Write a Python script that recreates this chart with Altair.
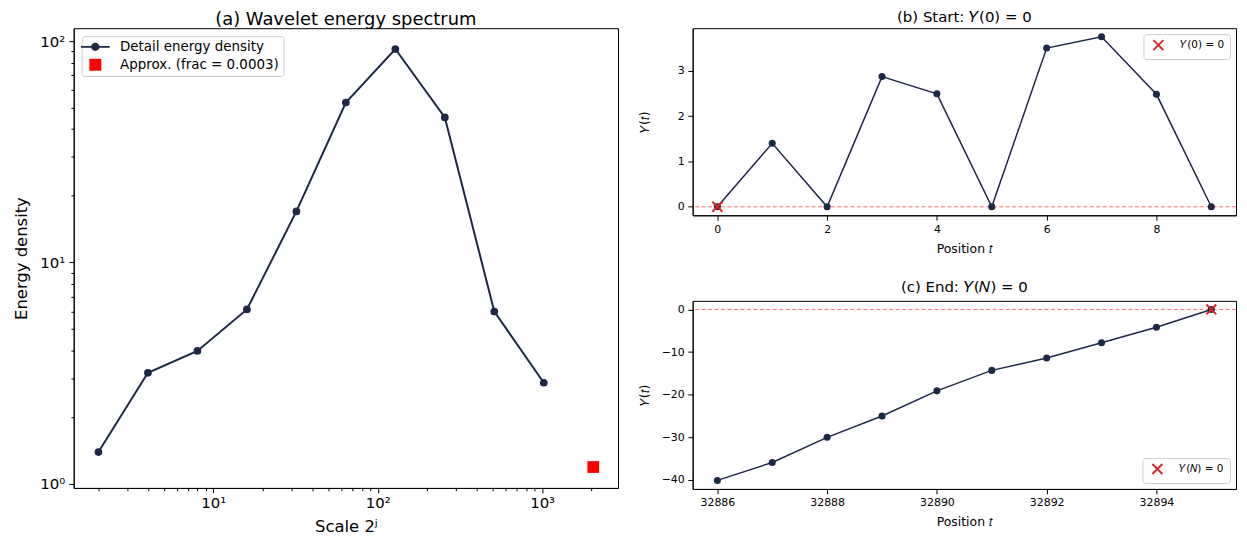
import altair as alt
import pandas as pd

# ---------------- data ----------------
# (a) wavelet energy spectrum
scales = [2, 4, 8, 16, 32, 64, 128, 256, 512, 1024]
energy = [1.39, 3.17, 3.98, 6.13, 17.0, 52.8, 92.1, 45.2, 6.0, 2.86]
approx_scale = [2048]
approx_energy = [1.19]
series_a = ["Detail energy density", "Approx. (frac = 0.0003)"]

# (b) start of profile
t_start = [0, 1, 2, 3, 4, 5, 6, 7, 8, 9]
y_start = [0.0, 1.40, 0.0, 2.87, 2.49, 0.0, 3.50, 3.75, 2.48, 0.0]
series_b = ["\U0001D44C(0) = 0"]

# (c) end of profile
t_end = [32886, 32887, 32888, 32889, 32890, 32891, 32892, 32893, 32894, 32895]
y_end = [-40.1, -35.9, -30.0, -25.0, -19.1, -14.3, -11.4, -7.8, -4.2, 0.0]
series_c = ["\U0001D44C(\U0001D441) = 0"]

zero_line = [0]

# tick values
x_major_a = [10, 100, 1000]
x_minor_a = [2, 3, 4, 5, 6, 7, 8, 9, 20, 30, 40, 50, 60, 70, 80, 90,
             200, 300, 400, 500, 600, 700, 800, 900, 2000]
y_major_a = [1, 10, 100]
y_minor_a = [2, 3, 4, 5, 6, 7, 8, 9, 20, 30, 40, 50, 60, 70, 80, 90]
x_ticks_b = [0, 2, 4, 6, 8]
y_ticks_b = [0, 1, 2, 3]
x_ticks_c = [32886, 32888, 32890, 32892, 32894]
y_ticks_c = [-40, -30, -20, -10, 0]

# ---------------- style ----------------
NAVY = "#1d2845"
RED_SQ = "#ff0000"
RED_X = "#d62728"
FONT = "DejaVu Sans"

PATH_LINE = ("M-2.9,-0.18H2.9V0.18H-2.9Z "
             "M-0.84,0A0.84,0.84 0 1,1 0.84,0A0.84,0.84 0 1,1 -0.84,0Z")
PATH_SQ = "M-1.2,-1.2H1.2V1.2H-1.2Z"
PATH_X = "M-1,-1L1,1M-1,1L1,-1"

def sup_expr(mapping):
    parts = " : ".join(f"datum.value == {k} ? '{v}'" for k, v in mapping.items())
    return parts + " : ''"

def tick_cond(major, big, small):
    arr = ",".join(str(v) for v in major)
    return {"condition": {"test": f"indexof([{arr}], datum.value) >= 0", "value": big},
            "value": small}

# ---------------- panel (a) ----------------
df_a = pd.DataFrame({"scale": scales, "energy": energy})
df_ap = pd.DataFrame({"scale": approx_scale, "energy": approx_energy})
df_la = pd.DataFrame({"series_a": series_a, "scale": [2, 2], "energy": [1, 1]})

xa = alt.X("scale:Q",
           scale=alt.Scale(type="log", domain=[1.414, 2896], nice=False),
           axis=alt.Axis(values=sorted(x_major_a + x_minor_a),
                         labelExpr=sup_expr({10: "10\u00b9", 100: "10\u00b2", 1000: "10\u00b3"}),
                         tickSize=tick_cond(x_major_a, 4.9, 2.8),
                         labelOverlap=False, labelFlush=False,
                         labelFontSize=15, titleFontSize=16.5,
                         labelPadding=3, titlePadding=8,
                         title="Scale 2\u02b2"))
ya = alt.Y("energy:Q",
           scale=alt.Scale(type="log", domain=[0.957, 114.4], nice=False),
           axis=alt.Axis(values=sorted(y_major_a + y_minor_a),
                         labelExpr=sup_expr({1: "10\u2070", 10: "10\u00b9", 100: "10\u00b2"}),
                         tickSize=tick_cond(y_major_a, 4.9, 2.8),
                         labelOverlap=False, labelFlush=False,
                         labelFontSize=15, titleFontSize=16.5,
                         labelPadding=4, titlePadding=10,
                         title="Energy density"))

legend_a = alt.Legend(title=None, orient="top-left", offset=8, padding=4,
                      fillColor="rgba(255,255,255,0.8)", strokeColor="#cccccc",
                      cornerRadius=3, symbolSize=100, labelFontSize=13.5,
                      labelFont=FONT, labelOffset=18, rowPadding=3, symbolOffset=3)

line_a = alt.Chart(df_a).mark_line(color=NAVY, strokeWidth=2).encode(x=xa, y=ya)
pts_a = alt.Chart(df_a).mark_circle(color=NAVY, size=60, opacity=1).encode(x=xa, y=ya)
sq_a = alt.Chart(df_ap).mark_square(color=RED_SQ, size=140, opacity=1).encode(x=xa, y=ya)
leg_a = alt.Chart(df_la).transform_filter("false").mark_point(filled=True, opacity=1).encode(
    x=xa, y=ya,
    color=alt.Color("series_a:N", scale=alt.Scale(domain=series_a, range=[NAVY, RED_SQ]),
                    legend=legend_a),
    shape=alt.Shape("series_a:N", scale=alt.Scale(domain=series_a, range=[PATH_LINE, PATH_SQ]),
                    legend=legend_a),
)

panel_a = alt.layer(line_a, pts_a, sq_a, leg_a).properties(
    width=547, height=462,
    title=alt.Title("(a) Wavelet energy spectrum", fontSize=18, offset=-1),
)

# ---------------- panels (b) and (c) ----------------
def small_panel(t, y, xdom, ydom, xticks, yticks, fmt, title, series, field, orient,
                mark_idx, height, toff):
    df = pd.DataFrame({"t": t, "y": y})
    df_m = df.iloc[[mark_idx]]
    df_z = pd.DataFrame({"y": zero_line})
    df_l = pd.DataFrame({field: series, "t": [t[0]], "y": [y[0]]})
    xe = alt.X("t:Q", scale=alt.Scale(domain=xdom, nice=False, zero=False),
               axis=alt.Axis(values=xticks, format=fmt, labelFontSize=11,
                             titleFontSize=12.5, labelPadding=3, titlePadding=8,
                             labelFlush=False, title="Position \U0001D461"))
    ye = alt.Y("y:Q", scale=alt.Scale(domain=ydom, nice=False, zero=False),
               axis=alt.Axis(values=yticks, format=fmt, labelFontSize=11,
                             titleFontSize=12.5, labelPadding=3.5, titlePadding=9,
                             minExtent=32, maxExtent=32, labelFlush=False,
                             title="\U0001D44C(\U0001D461)"))
    leg = alt.Legend(title=None, orient=orient, offset=6, padding=5,
                     fillColor="rgba(255,255,255,0.8)", strokeColor="#cccccc",
                     cornerRadius=3, symbolSize=100, symbolStrokeWidth=2,
                     labelFontSize=10.5, labelFont=FONT, labelOffset=16, symbolOffset=4)
    rule = alt.Chart(df_z).mark_rule(color="#ff7070", opacity=1, strokeDash=[4, 2.5],
                                     strokeWidth=1).encode(y=ye)
    line = alt.Chart(df).mark_line(color=NAVY, strokeWidth=1.5).encode(x=xe, y=ye)
    pts = alt.Chart(df).mark_circle(color=NAVY, size=50, opacity=1).encode(x=xe, y=ye)
    mk = alt.Chart(df_m).mark_point(shape=PATH_X, filled=False, color=RED_X, strokeWidth=2,
                                    size=100, opacity=1).encode(x=xe, y=ye)
    lg = alt.Chart(df_l).transform_filter("false").mark_point(filled=False, strokeWidth=2,
                                                               opacity=1).encode(
        x=xe, y=ye,
        color=alt.Color(f"{field}:N", scale=alt.Scale(domain=series, range=[RED_X]), legend=leg),
        shape=alt.Shape(f"{field}:N", scale=alt.Scale(domain=series, range=[PATH_X]), legend=leg),
    )
    return alt.layer(rule, line, pts, mk, lg).properties(
        width=546, height=height,
        title=alt.Title(title, fontSize=15, offset=toff),
    )

panel_b = small_panel(t_start, y_start, [-0.45, 9.45], [-0.1875, 3.9375],
                      x_ticks_b, y_ticks_b, "d", "(b) Start: \U0001D44C(0) = 0",
                      series_b, "series_b", "top-right", 0, 188, 3)
panel_c = small_panel(t_end, y_end, [32885.55, 32895.45], [-42.105, 2.005],
                      x_ticks_c, y_ticks_c, "d", "(c) End: \U0001D44C(\U0001D441) = 0",
                      series_c, "series_c", "bottom-right", 9, 189, 6)

right = alt.vconcat(panel_b, panel_c, spacing=24).resolve_scale(
    color="independent", shape="independent")

chart = alt.hconcat(panel_a, right, spacing=19).resolve_scale(
    color="independent", shape="independent"
).properties(
    padding={"left": 5, "top": 0, "right": 2, "bottom": 2},
    background="white",
).configure_view(
    stroke="black", strokeWidth=1
).configure_axis(
    domainColor="black", domainWidth=1, tickColor="black", tickWidth=1, tickSize=4.9,
    labelColor="black", titleColor="black", labelFont=FONT, titleFont=FONT,
    titleFontWeight="normal", grid=False,
).configure_title(
    font=FONT, fontWeight="normal", color="black", anchor="middle",
).configure_legend(
    labelColor="black",
)

chart.save("out.html", embed_options={"renderer": "svg", "actions": False})
